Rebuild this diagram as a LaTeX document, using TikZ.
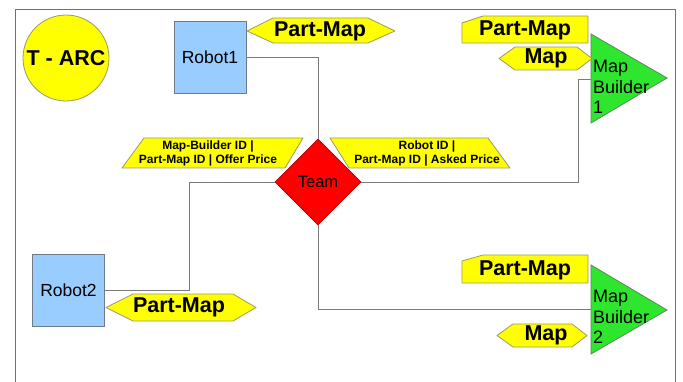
\documentclass[tikz,border=0pt]{standalone}
\usepackage{fontspec}
\setmainfont{Liberation Sans}
\usetikzlibrary{shapes.geometric}
\definecolor{tagfill}{HTML}{FFFF00}
\definecolor{tagline}{HTML}{9A9A6A}
\definecolor{robotfill}{HTML}{99CCFF}
\definecolor{robotline}{HTML}{6E7A86}
\definecolor{builderfill}{HTML}{2EE62E}
\definecolor{builderline}{HTML}{5A8A5A}
\definecolor{wire}{HTML}{7A7A7A}
\definecolor{framecol}{HTML}{707070}
\tikzset{
  wirestyle/.style={draw=wire, line width=0.9pt},
  framestyle/.style={draw=framecol, line width=0.8pt},
  tagshape/.style={fill=tagfill, draw=tagline, line width=0.8pt, line join=round},
  buildershape/.style={fill=builderfill, draw=builderline, line width=0.8pt},
  robotbox/.style={rectangle, fill=robotfill, draw=robotline, line width=0.8pt,
    minimum width=72pt, minimum height=72pt, inner sep=0pt,
    font=\fontsize{17.5}{20}\selectfont},
  tagtext/.style={inner sep=0pt, font=\fontsize{21.5}{24}\selectfont\bfseries},
  smalltag/.style={inner sep=0pt, align=center, font=\fontsize{12}{14}\selectfont\bfseries},
  buildertext/.style={anchor=west, inner sep=0pt, align=left, font=\fontsize{18}{20.5}\selectfont},
}
\begin{document}
\begin{tikzpicture}[x=1pt, y=-1pt]
\useasboundingbox (0,0) rectangle (683,382);
\fill[white] (0,0) rectangle (683,382);

% outer frame (open at the bottom)
\draw[framestyle] (15,382) -- (15,9) -- (675,9) -- (675,382);

% title badge
\node[circle, fill=tagfill, draw=tagline, line width=0.8pt, minimum size=86pt, inner sep=0pt,
      font=\fontsize{21.5}{24}\selectfont\bfseries] (tarc) at (66,58) {T - ARC};

% robots
\node[robotbox] (r1) at (210,57) {Robot1};
\node[robotbox] (r2) at (68.5,290) {Robot2};

% team broker
\node[diamond, aspect=1, fill=red, draw=red!70!black, line width=0.6pt,
      minimum width=86pt, minimum height=86pt, inner sep=0pt,
      font=\fontsize{16.5}{20}\selectfont] (team) at (318,182) {Team};

% map builders
\coordinate (mb1) at (591,79);
\coordinate (mb2) at (591,309.5);
\draw[buildershape] (591,34) -- (667,78) -- (591,123) -- cycle;
\draw[buildershape] (591,265) -- (667,310) -- (591,354) -- cycle;
\node[buildertext] (mb1t) at (593,87) {Map\\Builder\\1};
\node[buildertext] (mb2t) at (593,317) {Map\\Builder\\2};

% connectors
\draw[wirestyle] (r1.east) -| (team.north);
\draw[wirestyle] (team.east) -- ++(217,0) |- (mb1);
\draw[wirestyle] (team.south) |- (mb2);
\draw[wirestyle] (team.west) -- ++(-85,0) |- (r2.east);

% Part-Map tag at Robot1
\draw[tagshape] (247,31) -- (273,18) -- (368,18) -- (395,31) -- (368,43) -- (273,43) -- cycle;
\node[tagtext] (pm1) at (320,31) {Part-Map};

% Part-Map tag at Robot2
\draw[tagshape] (106,307.5) -- (133,294) -- (233,294) -- (256,307.5) -- (233,321) -- (133,321) -- cycle;
\node[tagtext] (pm2) at (179,307.5) {Part-Map};

% Part-Map and Map tags at Map Builder 1
\draw[tagshape] (462,23) -- (483,16) -- (588,16) -- (588,43) -- (462,43) -- cycle;
\node[tagtext] (pmb1) at (525,30) {Part-Map};
\draw[tagshape] (499,58.5) -- (515,47) -- (577,47) -- (592,58.5) -- (577,70) -- (515,70) -- cycle;
\node[tagtext] (mp1) at (546,58.5) {Map};

% Part-Map and Map tags at Map Builder 2
\draw[tagshape] (462,261) -- (483,255) -- (588,255) -- (588,283) -- (462,283) -- cycle;
\node[tagtext] (pmb2) at (525,270) {Part-Map};
\draw[tagshape] (497,335.5) -- (513,324) -- (572,324) -- (587,335.5) -- (572,347) -- (513,347) -- cycle;
\node[tagtext] (mp2) at (546,335.5) {Map};

% bid / ask messages
\draw[tagshape] (144,138) -- (303,138) -- (285,168) -- (122,168) -- cycle;
\node[smalltag] (offer) at (208,153) {Map-Builder ID |\\Part-Map ID | Offer Price};
\draw[tagshape] (330,138) -- (488,138) -- (510,168) -- (349,168) -- cycle;
\node[smalltag] (ask) at (427,153) {Robot ID |\\Part-Map ID | Asked Price};
\end{tikzpicture}
\end{document}
